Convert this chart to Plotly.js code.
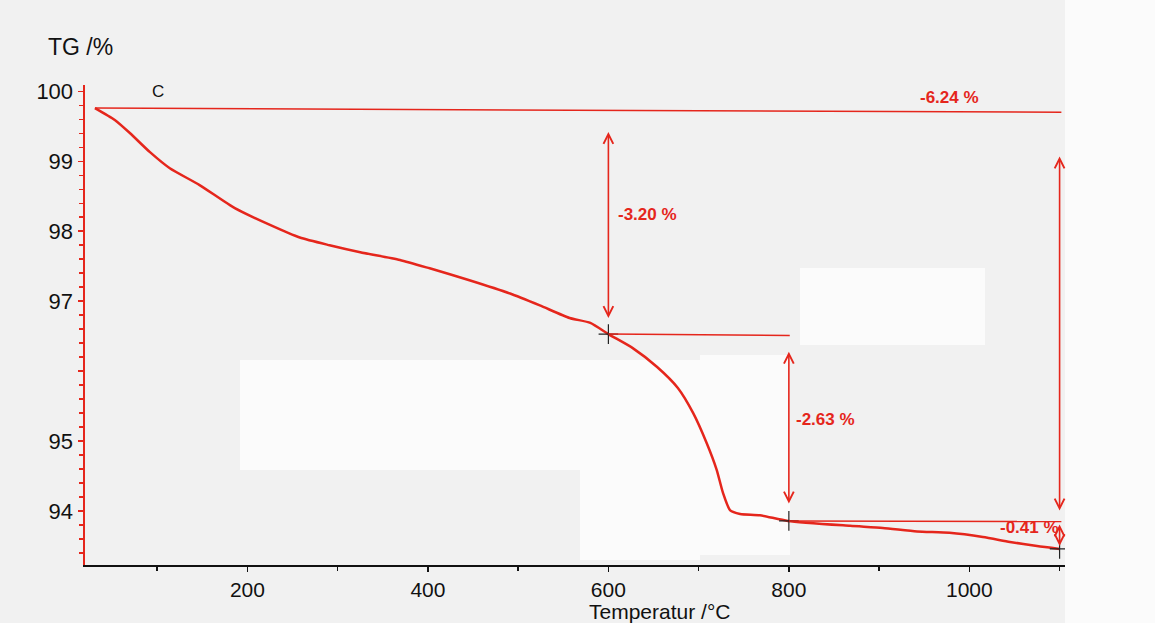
<!DOCTYPE html>
<html>
<head>
<meta charset="utf-8">
<script src="https://cdn.plot.ly/plotly-3.0.1.min.js"></script>
<style>html,body{margin:0;padding:0;background:#f1f1f1;}#chart{width:1155px;height:623px;}</style>
</head>
<body>
<div id="chart"></div>
<script>
// TG curve (temperature in °C, mass in %)
var temperature = [31,53,70,92,114,147,186,225,258,291,325,369,402,446,491,524,557,580,600,627,654,677,694,709,720,727,735,746,768,799,868,904,942,978,1015,1045,1075,1100];
var tgValues    = [99.76,99.59,99.40,99.13,98.90,98.66,98.33,98.09,97.91,97.80,97.70,97.59,97.47,97.30,97.11,96.94,96.76,96.69,96.53,96.33,96.06,95.76,95.40,94.97,94.59,94.26,94.01,93.96,93.94,93.86,93.79,93.76,93.71,93.69,93.63,93.56,93.50,93.46];

// Step evaluation markers
var markTemp = [600, 800, 1100];
var markTG   = [96.53, 93.86, 93.46];

// Horizontal reference lines
var refX0 = [31, 600, 800];
var refX1 = [1102, 801, 1102];
var refY0 = [99.76, 96.53, 93.86];
var refY1 = [99.70, 96.51, 93.85];

// Double arrows (x, top, bottom)
var arrowX   = [600, 800, 1100, 1100];
var arrowTop = [99.44, 96.30, 99.09, 93.83];
var arrowBot = [96.76, 94.11, 94.01, 93.50];

// Step labels
var stepLabels = ['-3.20 %', '-2.63 %', '-6.24 %', '-0.41 %'];
var labelX = [608, 806, 978, 1102];
var labelY = [98.24, 95.31, 99.91, 93.77];
var labelAnchor = ['left', 'left', 'center', 'right'];

// Axis ticks
var yTickVals = [94, 95, 96, 97, 98, 99, 100];
var yTickText = ['94', '95', '', '97', '98', '99', '100'];
var xTickVals = [200, 400, 600, 800, 1000];

var RED = '#e5261c';
var FONT = 'Liberation Sans, Arial, sans-serif';

var traces = [
  {x: temperature, y: tgValues, type: 'scatter', mode: 'lines',
   line: {color: RED, width: 2.5, shape: 'spline', smoothing: 0.6}, hoverinfo: 'skip'},
  {x: markTemp, y: markTG, type: 'scatter', mode: 'markers',
   marker: {symbol: 'cross-thin', size: 14, line: {color: '#222', width: 1.2}}, hoverinfo: 'skip'}
];

var shapes = [];
// background patches (scan look), pixel boxes converted to paper fractions
var patches = [[700,790,355,555],[800,985,268,345],[240,700,360,470],[1065,1155,0,623],[580,700,470,560]];
patches.forEach(function(p){
  shapes.push({type:'rect', xref:'paper', yref:'paper', layer:'below',
    x0:(p[0]-85)/980, x1:(p[1]-85)/980, y0:(565-p[3])/480, y1:(565-p[2])/480,
    fillcolor:'#fbfbfb', line:{width:0}});
});
for (var i = 0; i < refX0.length; i++) {
  shapes.push({type:'line', xref:'x', yref:'y', x0:refX0[i], x1:refX1[i], y0:refY0[i], y1:refY1[i],
    line:{color: RED, width: 1.5}});
}

var annotations = [];
for (var j = 0; j < arrowX.length; j++) {
  annotations.push({x: arrowX[j], y: arrowBot[j], ax: arrowX[j], ay: arrowTop[j],
    xref:'x', yref:'y', axref:'x', ayref:'y', text:'', showarrow:true,
    arrowhead: 5, startarrowhead: 5, arrowside:'end+start', arrowsize: 1.2, startarrowsize: 1.2,
    arrowwidth: 1.6, arrowcolor: RED});
}
for (var k = 0; k < stepLabels.length; k++) {
  annotations.push({x: labelX[k], y: labelY[k], xref:'x', yref:'y', text: '<b>' + stepLabels[k] + '</b>',
    showarrow:false, xanchor: labelAnchor[k], yanchor:'middle',
    font:{family: FONT, size: 17, color: RED}});
}
annotations.push({x: 101, y: 100.0, xref:'x', yref:'y', text:'C', showarrow:false,
  xanchor:'center', yanchor:'middle', font:{family: FONT, size: 17, color:'#111'}});
annotations.push({x: (80-85)/980, y: (565-47)/480, xref:'paper', yref:'paper', text:'TG /%', showarrow:false,
  xanchor:'center', yanchor:'middle', font:{family: FONT, size: 23, color:'#111'}});
annotations.push({x: 657, y: 0, xref:'x', yref:'paper', yshift: -46, text:'Temperatur /°C', showarrow:false,
  xanchor:'center', yanchor:'middle', font:{family: FONT, size: 21, color:'#111'}});

var layout = {
  width: 1155, height: 623,
  margin: {l: 85, r: 90, t: 85, b: 58},
  paper_bgcolor: '#f1f1f1', plot_bgcolor: 'rgba(0,0,0,0)',
  showlegend: false,
  font: {family: FONT, color: '#111'},
  xaxis: {range: [20, 1106], showgrid: false, zeroline: false,
    showline: true, linecolor: '#111', linewidth: 2,
    tickmode: 'array', tickvals: xTickVals, ticks: 'outside', ticklen: 5, tickcolor: '#111', tickwidth: 1.5,
    minor: {tickmode: 'linear', tick0: 0, dtick: 100, ticks: 'outside', ticklen: 4, tickcolor: '#111'},
    tickfont: {family: FONT, size: 21, color: '#111'}},
  yaxis: {range: [93.23, 100.09], showgrid: false, zeroline: false,
    showline: true, linecolor: RED, linewidth: 2.5,
    tickmode: 'array', tickvals: yTickVals, ticktext: yTickText, ticks: 'outside', ticklen: 5, tickcolor: RED, tickwidth: 1.5,
    minor: {tickmode: 'linear', tick0: 94, dtick: 0.2, ticks: 'outside', ticklen: 4, tickcolor: RED},
    tickfont: {family: FONT, size: 22, color: '#111'}},
  shapes: shapes,
  annotations: annotations
};

Plotly.newPlot('chart', traces, layout, {displayModeBar: false, staticPlot: true});
</script>
</body>
</html>
